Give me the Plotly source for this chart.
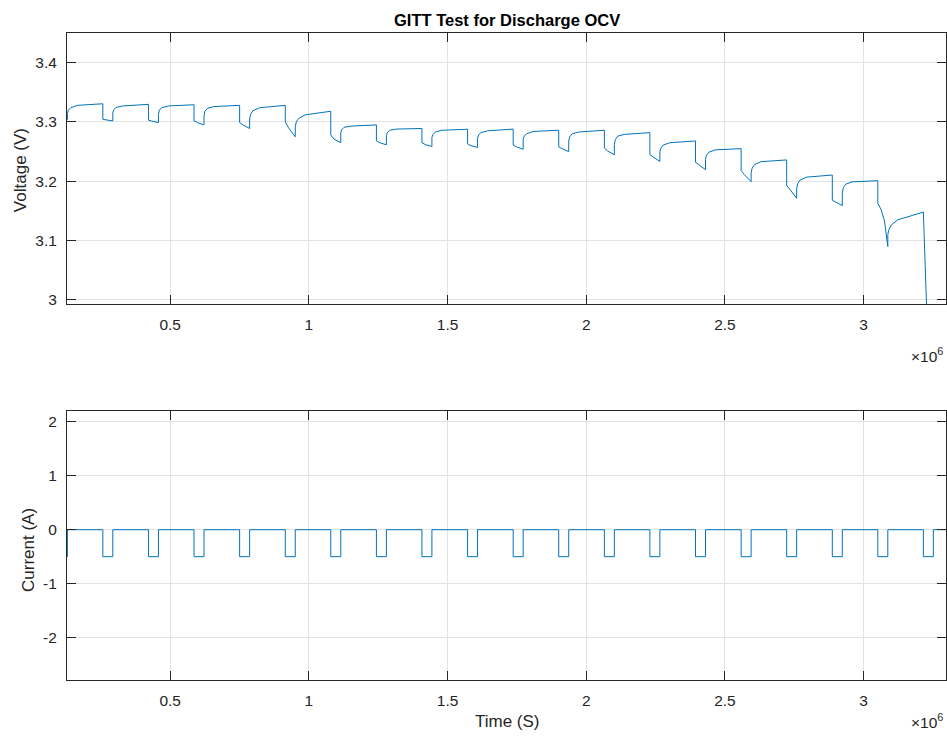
import plotly.graph_objects as go

# ---------------------------------------------------------------
# GITT discharge record: constant-current pulses followed by rests
# ---------------------------------------------------------------
t_first = 128000          # first sample (s)
t_last = 3297000          # last sample (s)
pulse_current = -0.5      # A during each pulse
rest_current = 0.0        # A during relaxation
pulse_length = 36000      # s

# end of the pulse that precedes the first complete cycle
lead_pulse_end = 129500
lead_pulse_v = [3.303, 3.304]

# start time of every discharge pulse (s)
pulse_start = [257200, 421700, 585900, 750400, 914900, 1079000, 1243500,
               1407600, 1572200, 1736600, 1900800, 2065300, 2229400,
               2393900, 2558400, 2722600, 2887100, 3051200, 3215400]

# open-circuit voltage at the end of each rest, just before the pulse (V)
v_rest = [3.3307, 3.3297, 3.329, 3.328, 3.328, 3.318, 3.295, 3.289,
          3.2877, 3.288, 3.286, 3.286, 3.282, 3.268, 3.255, 3.236,
          3.2105, 3.201, 3.148]

# loaded voltage sampled inside each pulse (V)
pulse_sample_t = [0, 12000, 24000, 36000]
v_pulse = [
    [3.3045, 3.3035, 3.3025, 3.3017],
    [3.303, 3.3015, 3.300, 3.299],
    [3.302, 3.299, 3.297, 3.295],
    [3.299, 3.295, 3.292, 3.289],
    [3.300, 3.290, 3.282, 3.275],
    [3.278, 3.271, 3.268, 3.265],
    [3.268, 3.265, 3.263, 3.2615],
    [3.265, 3.262, 3.260, 3.2585],
    [3.263, 3.260, 3.258, 3.257],
    [3.261, 3.258, 3.256, 3.254],
    [3.258, 3.255, 3.252, 3.250],
    [3.256, 3.251, 3.248, 3.2446],
    [3.245, 3.241, 3.237, 3.2334],
    [3.232, 3.228, 3.224, 3.2195],
    [3.218, 3.211, 3.205, 3.1993],
    [3.193, 3.186, 3.179, 3.1713],
    [3.168, 3.165, 3.162, 3.159],
    [3.163, 3.152, 3.133, 3.090],
]

# relaxation voltage sampled after each pulse ends (V)
relax_sample_t = [0, 3600, 12000, 36000]
v_lead_relax = [3.314, 3.320, 3.324, 3.328]
v_relax = [
    [3.315, 3.321, 3.3245, 3.327],
    [3.313, 3.320, 3.324, 3.327],
    [3.310, 3.318, 3.323, 3.326],
    [3.305, 3.313, 3.319, 3.324],
    [3.292, 3.300, 3.306, 3.312],
    [3.282, 3.287, 3.291, 3.293],
    [3.277, 3.282, 3.286, 3.288],
    [3.274, 3.279, 3.283, 3.286],
    [3.272, 3.278, 3.282, 3.285],
    [3.270, 3.276, 3.280, 3.284],
    [3.268, 3.275, 3.280, 3.283],
    [3.262, 3.270, 3.276, 3.279],
    [3.250, 3.256, 3.261, 3.265],
    [3.237, 3.244, 3.249, 3.253],
    [3.214, 3.222, 3.228, 3.233],
    [3.187, 3.196, 3.202, 3.207],
    [3.180, 3.189, 3.195, 3.199],
    [3.110, 3.118, 3.126, 3.135],
]

# final pulse: voltage collapses through the cut-off
final_drop_t = 18000
final_drop_v = 2.90

# axis ticks
x_tickvals = [500000, 1000000, 1500000, 2000000, 2500000, 3000000]
x_ticktext = ["0.5", "1", "1.5", "2", "2.5", "3"]
v_tickvals = [3.0, 3.1, 3.2, 3.3, 3.4]
v_ticktext = ["3", "3.1", "3.2", "3.3", "3.4"]
i_tickvals = [-2, -1, 0, 1, 2]
i_ticktext = ["-2", "-1", "0", "1", "2"]

# ---------------------------------------------------------------
# assemble the time series
# ---------------------------------------------------------------
vt = [t_first, lead_pulse_end]
vv = list(lead_pulse_v)
for off, val in zip(relax_sample_t, v_lead_relax):
    vt.append(lead_pulse_end + off)
    vv.append(val)
for k, ts in enumerate(pulse_start[:-1]):
    vt.append(ts)
    vv.append(v_rest[k])
    for off, val in zip(pulse_sample_t, v_pulse[k]):
        vt.append(ts + off)
        vv.append(val)
    te = ts + pulse_length
    for off, val in zip(relax_sample_t, v_relax[k]):
        vt.append(te + off)
        vv.append(val)
vt += [pulse_start[-1], pulse_start[-1] + final_drop_t]
vv += [v_rest[-1], final_drop_v]

ct = [t_first, lead_pulse_end, lead_pulse_end]
cv = [pulse_current, pulse_current, rest_current]
for ts in pulse_start:
    te = ts + pulse_length
    ct += [ts, ts, te, te]
    cv += [rest_current, pulse_current, pulse_current, rest_current]
ct.append(t_last)
cv.append(rest_current)

# ---------------------------------------------------------------
# figure
# ---------------------------------------------------------------
LINE = "#0072BD"
AX = "#262626"
GRID = "#e3e3e3"
FONT = "Liberation Sans, Arial, sans-serif"

fig = go.Figure()
fig.add_trace(go.Scatter(x=vt, y=vv, mode="lines", xaxis="x", yaxis="y",
                         line=dict(color=LINE, width=1), showlegend=False))
fig.add_trace(go.Scatter(x=ct, y=cv, mode="lines", xaxis="x2", yaxis="y2",
                         line=dict(color=LINE, width=1), showlegend=False))

common_axis = dict(
    showline=True, linecolor=AX, linewidth=1, mirror="ticks",
    ticks="inside", ticklen=9, tickcolor=AX, tickwidth=1,
    showgrid=True, gridcolor=GRID, gridwidth=1, zeroline=False,
    tickfont=dict(family=FONT, size=15.5, color=AX),
)

x_common = dict(common_axis, range=[t_first, t_last], tickmode="array",
                tickvals=x_tickvals, ticktext=x_ticktext,
                ticklabelstandoff=6)

fig.update_layout(
    width=947, height=736,
    margin=dict(l=67, r=1, t=33, b=56),
    paper_bgcolor="white", plot_bgcolor="white",
    xaxis=dict(x_common, domain=[0, 1], anchor="y"),
    yaxis=dict(common_axis, domain=[0.5811, 1], anchor="x",
               range=[2.993, 3.45], tickmode="array",
               tickvals=v_tickvals, ticktext=v_ticktext,
               ticklabelstandoff=6),
    xaxis2=dict(x_common, domain=[0, 1], anchor="y2"),
    yaxis2=dict(common_axis, domain=[0, 0.4158], anchor="x2",
                range=[-2.785, 2.2], tickmode="array",
                tickvals=i_tickvals, ticktext=i_ticktext,
                ticklabelstandoff=6),
)

ann_font = dict(family=FONT, size=17, color=AX)
fig.add_annotation(text="<b>GITT Test for Discharge OCV</b>", xref="paper",
                   yref="paper", x=0.5006, y=1.0201, showarrow=False,
                   xanchor="center", yanchor="middle",
                   font=dict(family=FONT, size=16.5, color="#000000"))
fig.add_annotation(text="Voltage (V)", xref="paper", yref="paper",
                   x=-0.0535, y=0.788, textangle=-90, showarrow=False,
                   xanchor="center", yanchor="middle", font=ann_font)
fig.add_annotation(text="Current (A)", xref="paper", yref="paper",
                   x=-0.0444, y=0.2009, textangle=-90, showarrow=False,
                   xanchor="center", yanchor="middle", font=ann_font)
fig.add_annotation(text="Time (S)", xref="paper", yref="paper",
                   x=0.5006, y=-0.0649, showarrow=False,
                   xanchor="center", yanchor="middle", font=ann_font)
for ypos in (0.5023, -0.0634):
    fig.add_annotation(text="×10<sup>6</sup>", xref="paper", yref="paper",
                       x=0.9989, y=ypos, showarrow=False,
                       xanchor="right", yanchor="middle",
                       font=dict(family=FONT, size=15.5, color=AX))

fig.write_html("out.html")
